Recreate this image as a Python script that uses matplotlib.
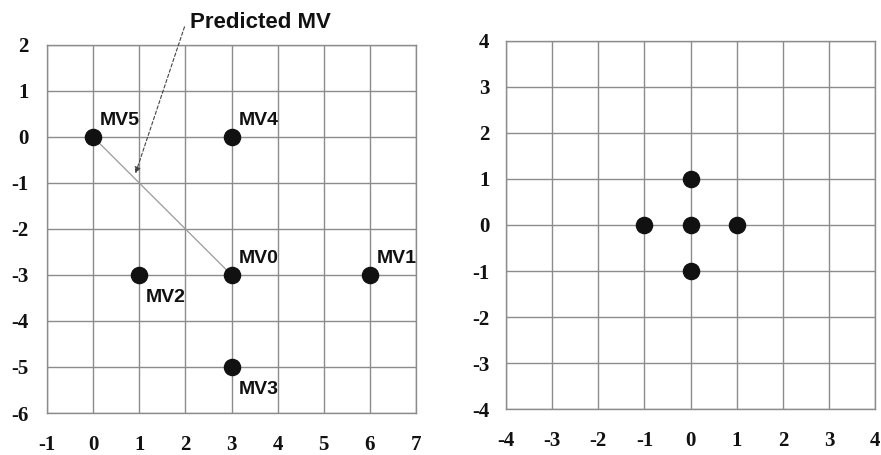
import matplotlib.pyplot as plt

# candidate motion vectors (left panel)
mv_names = ['MV0', 'MV1', 'MV2', 'MV3', 'MV4', 'MV5']
mv_x = [3, 6, 1, 3, 3, 0]
mv_y = [-3, -3, -3, -5, 0, 0]
label_below = ['MV2', 'MV3']

# predicted MV: arrow target on the MV5 -> MV0 line
pred_tip = (0.9, -0.85)
pred_tail = (2.0, 2.45)

# small diamond search pattern (right panel)
search_x = [0, -1, 0, 1, 0]
search_y = [1, 0, 0, 0, -1]

left_xticks = list(range(-1, 8))
left_yticks = list(range(-6, 3))
right_ticks = list(range(-4, 5))

grid_color = '#8c8c8c'

fig = plt.figure(figsize=(8.81, 4.55), dpi=100)
ax1 = fig.add_axes([0.0533, 0.0923, 0.419, 0.809])
ax2 = fig.add_axes([0.5743, 0.101, 0.419, 0.809])


def style_grid(ax, xt, yt, xpad, ypad):
    ax.set_xlim(xt[0], xt[-1])
    ax.set_ylim(yt[0], yt[-1])
    ax.set_xticks(xt)
    ax.set_yticks(yt)
    ax.set_xticklabels([str(v) for v in xt])
    ax.set_yticklabels([str(v) for v in yt])
    for lab in ax.get_xticklabels() + ax.get_yticklabels():
        lab.set_fontfamily('Liberation Serif')
        lab.set_fontweight('bold')
        lab.set_fontsize(15)
        lab.set_color('#111111')
    ax.tick_params(length=0)
    ax.tick_params(axis='x', pad=xpad)
    ax.tick_params(axis='y', pad=ypad)
    ax.grid(True, color=grid_color, linewidth=1.0)
    ax.set_axisbelow(True)
    for s in ax.spines.values():
        s.set_color(grid_color)
        s.set_linewidth(1.0)


style_grid(ax1, left_xticks, left_yticks, 16, 13)
style_grid(ax2, right_ticks, right_ticks, 16, 12)

# line between MV5 and MV0
ax1.plot([mv_x[5], mv_x[0]], [mv_y[5], mv_y[0]], color='#9a9a9a', linewidth=0.9, zorder=2)

ax1.scatter(mv_x, mv_y, s=135, color='#111111', zorder=3)
for name, x, y in zip(mv_names, mv_x, mv_y):
    if name in label_below:
        ax1.annotate(name, (x, y), xytext=(7, -14), textcoords='offset pixels',
                     ha='left', va='top', family='Liberation Sans',
                     weight='bold', size=14, color='#111111')
    else:
        ax1.annotate(name, (x, y), xytext=(7, 8), textcoords='offset pixels',
                     ha='left', va='bottom', family='Liberation Sans',
                     weight='bold', size=14, color='#111111')

# dashed pointer to the predicted MV
ax1.annotate('', xy=pred_tip, xytext=pred_tail,
             arrowprops=dict(arrowstyle='-|>', linestyle=(0, (3, 2)), color='#444444',
                             linewidth=0.8, mutation_scale=9),
             annotation_clip=False)
ax1.text(pred_tail[0] + 0.1, pred_tail[1] + 0.03, 'Predicted MV', family='Liberation Sans',
         weight='bold', size=16, ha='left', va='center', color='#111111', clip_on=False)

ax2.scatter(search_x, search_y, s=135, color='#111111', zorder=3)

fig.savefig('out.png', dpi=100)
